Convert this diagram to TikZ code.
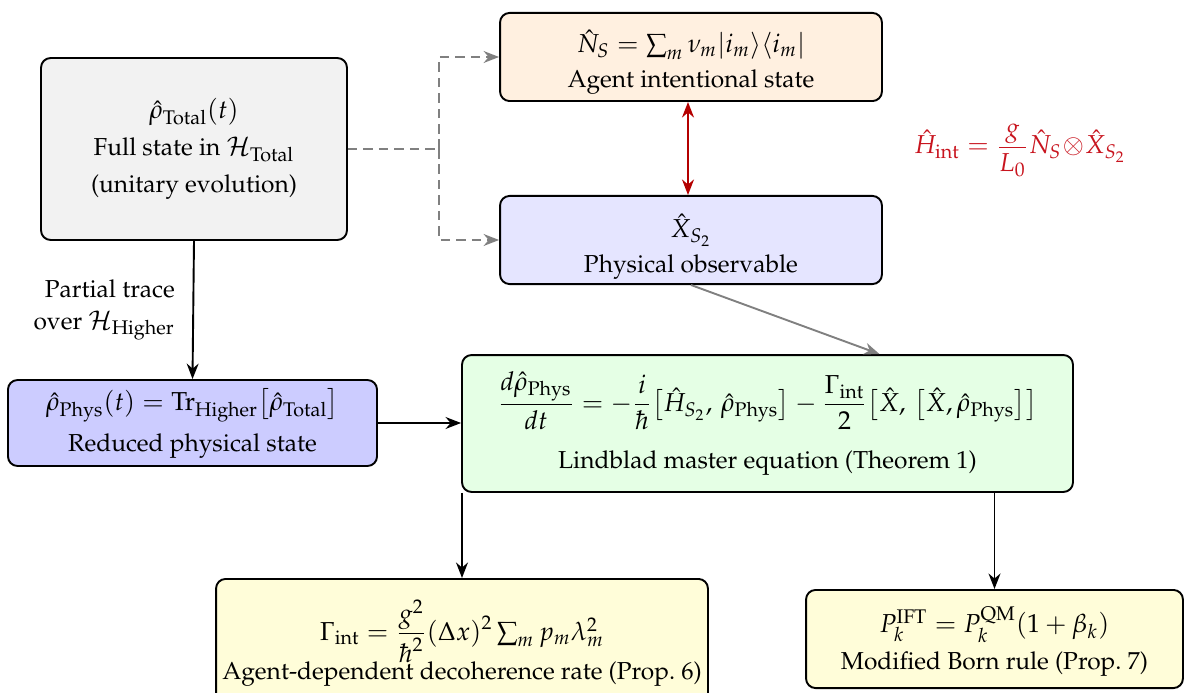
\documentclass[tikz,border=0pt]{standalone}
\usepackage[T1]{fontenc}
\usepackage{mathpazo}
\usepackage{amsmath}
\usetikzlibrary{arrows.meta,calc}
\definecolor{arrred}{RGB}{180,0,0}
\definecolor{txtred}{RGB}{200,20,30}
\newcommand{\mm}[1]{{\fontsize{10.9pt}{13.5pt}\selectfont$#1$}}
\begin{document}
\begin{tikzpicture}[x=0.42pt,y=-0.42pt,
  every node/.style={font=\fontsize{10.3pt}{13.5pt}\selectfont},
  box/.style={draw=black, thick, rounded corners=4pt, align=center, inner sep=2pt},
  arr/.style={-{Stealth[length=6.5pt,width=5pt]}, thick},
  garr/.style={-{Stealth[length=6.5pt,width=5pt]}, thick, gray},
  darr/.style={-{Stealth[length=6.5pt,width=5pt]}, thick, gray, dash pattern=on 4pt off 2.5pt},
  rarr/.style={{Stealth[length=6.5pt,width=5pt]}-{Stealth[length=6.5pt,width=5pt]}, line width=1.2pt, arrred},
]
\useasboundingbox (0,0) rectangle (1185,693);

\node[box, fill=orange!12, minimum width=160.4pt, minimum height=37pt] (agent) at (691,57)
  {\rule{0pt}{14pt}\mm{\hat N_S = \textstyle\sum_m \nu_m|i_m\rangle\langle i_m|}\\[1pt] Agent intentional state};
\node[box, fill=blue!10, minimum width=160.4pt, minimum height=37pt] (phys) at (691,240)
  {\rule{0pt}{15.5pt}\mm{\hat X_{S_2}}\\[1pt] Physical observable};
\node[box, fill=gray!10, minimum width=128.5pt, minimum height=76.4pt] (full) at (194,149)
  {\mm{\hat\rho_{\mathrm{Total}}(t)}\\[2pt] Full state in \mm{\mathcal{H}_{\mathrm{Total}}}\\[2pt] (unitary evolution)};
\node[box, fill=blue!20, minimum width=155pt, minimum height=36.1pt] (red) at (192.5,423)
  {\mm{\hat\rho_{\mathrm{Phys}}(t) = \mathrm{Tr}_{\mathrm{Higher}}\big[\hat\rho_{\mathrm{Total}}\big]}\\[3.5pt] Reduced physical state};
\node[box, fill=green!10, minimum width=256.6pt, minimum height=57.5pt] (lind) at (767.5,423.5)
  {\mm{\displaystyle\frac{d\hat\rho_{\mathrm{Phys}}}{dt} = -\frac{i}{\hbar}\big[\hat H_{S_2},\, \hat\rho_{\mathrm{Phys}}\big] - \frac{\Gamma_{\mathrm{int}}}{2}\big[\hat X,\, \big[\hat X, \hat\rho_{\mathrm{Phys}}\big]\big]}\\[8pt] Lindblad master equation (Theorem 1)};
\node[box, fill=yellow!15, minimum width=206.6pt, minimum height=53.8pt] (decoh) at (462,643)
  {\mm{\displaystyle\Gamma_{\mathrm{int}} = \frac{g^2}{\hbar^2}(\Delta x)^2 \textstyle\sum_m p_m\lambda_m^2}\\[-1.5pt] Agent-dependent decoherence rate (Prop.~6)};
\node[box, fill=yellow!15, minimum width=158.3pt, minimum height=41.2pt] (born) at (994.5,639)
  {\rule{0pt}{13pt}\mm{P_k^{\mathrm{IFT}} = P_k^{\mathrm{QM}}(1+\beta_k)}\\[2pt] Modified Born rule (Prop.~7)};

\node[text=txtred] (hint) at (1020,150)
  {\mm{\displaystyle\hat H_{\mathrm{int}} = \frac{g}{L_0}\hat N_S\!\otimes\!\hat X_{S_2}}};

\coordinate (j) at (439,149);
\draw[thick, gray, dash pattern=on 4pt off 2.5pt] (full.east) -- (j);
\draw[darr] (j) |- (agent.west);
\draw[darr] (j) |- (phys.west);

\draw[rarr] (agent.south -| 688,0) -- (phys.north -| 688,0);

\draw[garr] (phys.south) -- ($(lind.north)+(112,0)$);

\draw[arr] (full.south) -- (red.north)
  node[midway, left=4pt, align=right] (pt) {Partial trace\\over \mm{\mathcal{H}_{\mathrm{Higher}}}};

\draw[arr] (red.east) -- (lind.west |- red.east);

\draw[arr] (lind.south -| decoh.north) -- (decoh.north);
\draw[arr] (lind.south -| born.north) -- (born.north);
\end{tikzpicture}
\end{document}
